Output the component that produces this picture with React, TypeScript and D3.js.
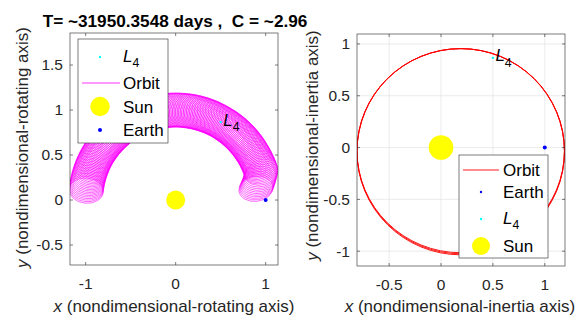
import React from 'react';
import * as d3 from 'd3';

const titleText = 'T= ~31950.3548 days ,  C = ~2.96';

// rotating frame (left)
const rotXTicks = [-1, 0, 1];
const rotYTicks = [-0.5, 0, 0.5, 1, 1.5];
// guiding-centre angle (deg) of each epicycle loop, read along the band
const loopAngles = [
  8, 9, 10, 11, 12, 13, 14, 15, 16, 17, 18, 19, 20, 21, 22, 23, 24, 25, 26, 27,
  28, 29, 30, 31, 32, 33, 34, 35, 36, 37, 38, 39, 40, 41, 42, 43, 44, 45, 46, 47,
  48, 49, 50, 51, 52, 53, 54, 55, 56, 57, 58, 59, 60, 61, 62, 63, 64, 65, 66, 67,
  68, 69, 70, 71, 72, 73, 74, 75, 76, 77, 78, 79, 80, 81, 82, 83, 84, 85, 86, 87,
  88, 89, 90, 91, 92, 93, 94, 95, 96, 97, 98, 99, 100, 101, 102, 103, 104, 105, 106, 107,
  108, 109, 110, 111, 112, 113, 114, 115, 116, 117, 118, 119, 120, 121, 122, 123, 124, 125, 126, 127,
  128, 129, 130, 131, 132, 133, 134, 135, 136, 137, 138, 139, 140, 141, 142, 143, 144, 145, 146, 147,
  148, 149, 150, 151, 152, 153, 154, 155, 156, 157, 158, 159, 160, 161, 162, 163, 164, 165, 166, 167,
  168, 169, 170, 171, 172, 173, 174,
];
// distance of each loop's centre from the Sun
const loopRadii = [
  0.9, 0.91, 0.92, 0.93, 0.94, 0.95, 0.96, 0.97, 0.98, 0.99, 1, 1, 1, 1, 1, 1, 1, 1, 1, 1,
  1, 1, 1, 1, 1, 1, 1, 1, 1, 1, 1, 1, 1, 1, 1, 1, 1, 1, 1, 1,
  1, 1, 1, 1, 1, 1, 1, 1, 1, 1, 1, 1, 1, 1, 1, 1, 1, 1, 1, 1,
  1, 1, 1, 1, 1, 1, 1, 1, 1, 1, 1, 1, 1, 1, 1, 1, 1, 1, 1, 1,
  1, 1, 1, 1, 1, 1, 1, 1, 1, 1, 1, 1, 1, 1, 1, 1, 1, 1, 1, 1,
  1, 1, 1, 1, 1, 1, 1, 1, 1, 1, 1, 1, 1, 1, 1, 1, 1, 1, 1, 1,
  1, 1, 1, 1, 1, 1, 1, 1, 1, 1, 1, 1, 1, 1, 1, 1, 1, 1, 1, 1,
  1, 1, 1, 1, 1, 1, 1, 1, 1, 1, 1, 1, 1, 1, 1, 1, 1, 1, 1, 1,
  1, 1, 1, 1, 1, 1, 1,
];
const loopSemiRadial = 0.19;
const loopSemiTangential = 0.14;

// inertial frame (right)
const inXTicks = [-0.5, 0, 0.5, 1];
const inYTicks = [-1, -0.5, 0, 0.5, 1];
const orbitCx = [0.19, 0.19, 0.19];
const orbitCy = [-0.03, -0.035, -0.04];
const orbitRx = [1.0, 1.0, 1.0];
const orbitRy = [0.985, 0.99, 0.995];

const sunPos = [0, 0];
const earthPos = [1, 0];
const l4Pos = [0.5, 0.866];

const FONT = 'Liberation Sans, Arial, Helvetica, sans-serif';
const AXIS_COLOR = '#262626';

type Box = { left: number; right: number; top: number; bottom: number };

function Grid({ box, x, y, xTicks, yTicks }: any) {
  return (
    <g stroke="#e3e3e3" strokeWidth={0.7}>
      {xTicks.map((t: number) => (
        <line key={'gx' + t} x1={x(t)} x2={x(t)} y1={box.top} y2={box.bottom} />
      ))}
      {yTicks.map((t: number) => (
        <line key={'gy' + t} x1={box.left} x2={box.right} y1={y(t)} y2={y(t)} />
      ))}
    </g>
  );
}

function AxesOverlay({ box, x, y, xTicks, yTicks }: any) {
  const tl = 3;
  return (
    <g fill="none" stroke={AXIS_COLOR} strokeWidth={0.6}>
      <rect x={box.left} y={box.top} width={box.right - box.left} height={box.bottom - box.top} />
      {xTicks.map((t: number) => (
        <g key={'tx' + t}>
          <line x1={x(t)} x2={x(t)} y1={box.bottom} y2={box.bottom - tl} />
          <line x1={x(t)} x2={x(t)} y1={box.top} y2={box.top + tl} />
        </g>
      ))}
      {yTicks.map((t: number) => (
        <g key={'ty' + t}>
          <line x1={box.left} x2={box.left + tl} y1={y(t)} y2={y(t)} />
          <line x1={box.right} x2={box.right - tl} y1={y(t)} y2={y(t)} />
        </g>
      ))}
    </g>
  );
}

function TickLabels({ box, x, y, xTicks, yTicks }: any) {
  return (
    <g fontFamily={FONT} fontSize={15.5} fill={AXIS_COLOR}>
      {xTicks.map((t: number) => (
        <text key={'lx' + t} x={x(t)} y={box.bottom + 24} textAnchor="middle">
          {String(t)}
        </text>
      ))}
      {yTicks.map((t: number) => (
        <text key={'ly' + t} x={box.left - 7} y={y(t)} dy="0.35em" textAnchor="end">
          {String(t)}
        </text>
      ))}
    </g>
  );
}

function L4Text({ px, py, size }: any) {
  return (
    <text x={px} y={py} fontFamily={FONT} fontSize={size} fill="#000">
      <tspan fontStyle="italic">L</tspan>
      <tspan fontSize={size * 0.72} dy={size * 0.32}>4</tspan>
    </text>
  );
}

export default function App() {
  // left axes
  const lb: Box = { left: 70, right: 278, top: 33, bottom: 265 };
  const lx = d3.scaleLinear().domain([-1.174, 1.137]).range([lb.left, lb.right]);
  const ly = d3.scaleLinear().domain([-0.722, 1.856]).range([lb.bottom, lb.top]);

  // right axes
  const rb: Box = { left: 357, right: 565, top: 34, bottom: 266 };
  const rx = d3.scaleLinear().domain([-0.81, 1.195]).range([rb.left, rb.right]);
  const ry = d3.scaleLinear().domain([-1.143, 1.096]).range([rb.bottom, rb.top]);

  const loops = loopAngles.map((a, i) => {
    const rad = (a * Math.PI) / 180;
    const r = loopRadii[i];
    return { a, cx: lx(r * Math.cos(rad)), cy: ly(r * Math.sin(rad)) };
  });
  const loopRx = lx(loopSemiRadial) - lx(0);
  const loopRy = lx(loopSemiTangential) - lx(0);

  const sunRL = lx(0.105) - lx(0);
  const sunRR = 12.3;

  const orbits = orbitCx.map((cx, i) => ({
    cx: rx(cx),
    cy: ry(orbitCy[i]),
    rxp: rx(orbitRx[i]) - rx(0),
    ryp: ry(0) - ry(orbitRy[i]),
  }));

  return (
    <svg width={579} height={320} style={{ position: 'absolute', left: 0, top: 0, background: '#fff' }}>
      <defs>
        <clipPath id="clipL">
          <rect x={lb.left} y={lb.top} width={lb.right - lb.left} height={lb.bottom - lb.top} />
        </clipPath>
        <clipPath id="clipR">
          <rect x={rb.left} y={rb.top} width={rb.right - rb.left} height={rb.bottom - rb.top} />
        </clipPath>
      </defs>
      <rect width={579} height={320} fill="#fff" />

      {/* title */}
      <text x={(lb.left + lb.right) / 2 + 1} y={26.5} textAnchor="middle" fontFamily={FONT} fontWeight="bold" fontSize={17.2} fill="#000" style={{ whiteSpace: 'pre' }}>
        {titleText}
      </text>

      {/* ---------- left: rotating frame ---------- */}
      <g clipPath="url(#clipL)">
        {loops.map((d, i) => (
          <ellipse
            key={i}
            cx={d.cx}
            cy={d.cy}
            rx={loopRx}
            ry={loopRy}
            transform={`rotate(${-d.a} ${d.cx} ${d.cy})`}
            fill="none"
            stroke="#ff00ff"
            strokeWidth={0.55}
          />
        ))}
        <circle cx={lx(sunPos[0])} cy={ly(sunPos[1])} r={sunRL} fill="#ffff00" />
        <circle cx={lx(earthPos[0])} cy={ly(earthPos[1])} r={2} fill="#0000ff" />
        <circle cx={lx(l4Pos[0])} cy={ly(l4Pos[1])} r={1.2} fill="#00ffff" />
      </g>
      <L4Text px={lx(l4Pos[0]) + 2.5} py={ly(l4Pos[1]) + 3.5} size={17} />
      <AxesOverlay box={lb} x={lx} y={ly} xTicks={rotXTicks} yTicks={rotYTicks} />
      <TickLabels box={lb} x={lx} y={ly} xTicks={rotXTicks} yTicks={rotYTicks} />
      <text x={(lb.left + lb.right) / 2} y={312} textAnchor="middle" fontFamily={FONT} fontSize={17} fill={AXIS_COLOR}>
        <tspan fontStyle="italic">x</tspan> (nondimensional-rotating axis)
      </text>
      <text transform={`translate(28,${(lb.top + lb.bottom) / 2 - 1.5}) rotate(-90)`} textAnchor="middle" fontFamily={FONT} fontSize={17} fill={AXIS_COLOR}>
        <tspan fontStyle="italic">y</tspan> (nondimensional-rotating axis)
      </text>

      {/* left legend */}
      <g fontFamily={FONT} fontSize={17} fill="#000">
        <rect x={78} y={39} width={90} height={104} fill="#fff" stroke={AXIS_COLOR} strokeWidth={0.6} />
        <circle cx={100} cy={57} r={1.2} fill="#00ffff" />
        <L4Text px={123} py={61.5} size={17} />
        <line x1={82} x2={120} y1={83} y2={83} stroke="#ff00ff" strokeWidth={0.8} />
        <text x={123} y={83} dy="0.35em">Orbit</text>
        <circle cx={100} cy={106.5} r={9.7} fill="#ffff00" />
        <text x={123} y={107} dy="0.35em">Sun</text>
        <circle cx={100} cy={130} r={2} fill="#0000ff" />
        <text x={123} y={130} dy="0.35em">Earth</text>
      </g>

      {/* ---------- right: inertial frame ---------- */}
      <Grid box={rb} x={rx} y={ry} xTicks={inXTicks} yTicks={inYTicks} />
      <g clipPath="url(#clipR)">
        {orbits.map((o, i) => (
          <ellipse key={i} cx={o.cx} cy={o.cy} rx={o.rxp} ry={o.ryp} fill="none" stroke="#ff0000" strokeWidth={0.9} />
        ))}
        <circle cx={rx(sunPos[0])} cy={ry(sunPos[1])} r={sunRR} fill="#ffff00" />
        <circle cx={rx(earthPos[0])} cy={ry(earthPos[1])} r={2} fill="#0000ff" />
        <circle cx={rx(l4Pos[0])} cy={ry(l4Pos[1])} r={1.2} fill="#00ffff" />
      </g>
      <L4Text px={rx(l4Pos[0]) + 2.5} py={ry(l4Pos[1]) + 3.5} size={17} />
      <AxesOverlay box={rb} x={rx} y={ry} xTicks={inXTicks} yTicks={inYTicks} />
      <TickLabels box={rb} x={rx} y={ry} xTicks={inXTicks} yTicks={inYTicks} />
      <text x={460} y={312} textAnchor="middle" fontFamily={FONT} fontSize={17} fill={AXIS_COLOR}>
        <tspan fontStyle="italic">x</tspan> (nondimensional-inertia axis)
      </text>
      <text transform={`translate(318,${(rb.top + rb.bottom) / 2 - 4.5}) rotate(-90)`} textAnchor="middle" fontFamily={FONT} fontSize={17} fill={AXIS_COLOR}>
        <tspan fontStyle="italic">y</tspan> (nondimensional-inertia axis)
      </text>

      {/* right legend */}
      <g fontFamily={FONT} fontSize={17} fill="#000">
        <rect x={459} y={155} width={89} height={103} fill="#fff" stroke={AXIS_COLOR} strokeWidth={0.6} />
        <line x1={463} x2={499} y1={170} y2={170} stroke="#ff0000" strokeWidth={0.9} />
        <text x={503} y={170} dy="0.35em">Orbit</text>
        <circle cx={481} cy={192} r={1.2} fill="#0000ff" />
        <text x={503} y={192} dy="0.35em">Earth</text>
        <circle cx={481} cy={219} r={1.2} fill="#00ffff" />
        <L4Text px={503} py={223.5} size={17} />
        <circle cx={481} cy={246} r={9} fill="#ffff00" />
        <text x={503} y={246} dy="0.35em">Sun</text>
      </g>
    </svg>
  );
}
